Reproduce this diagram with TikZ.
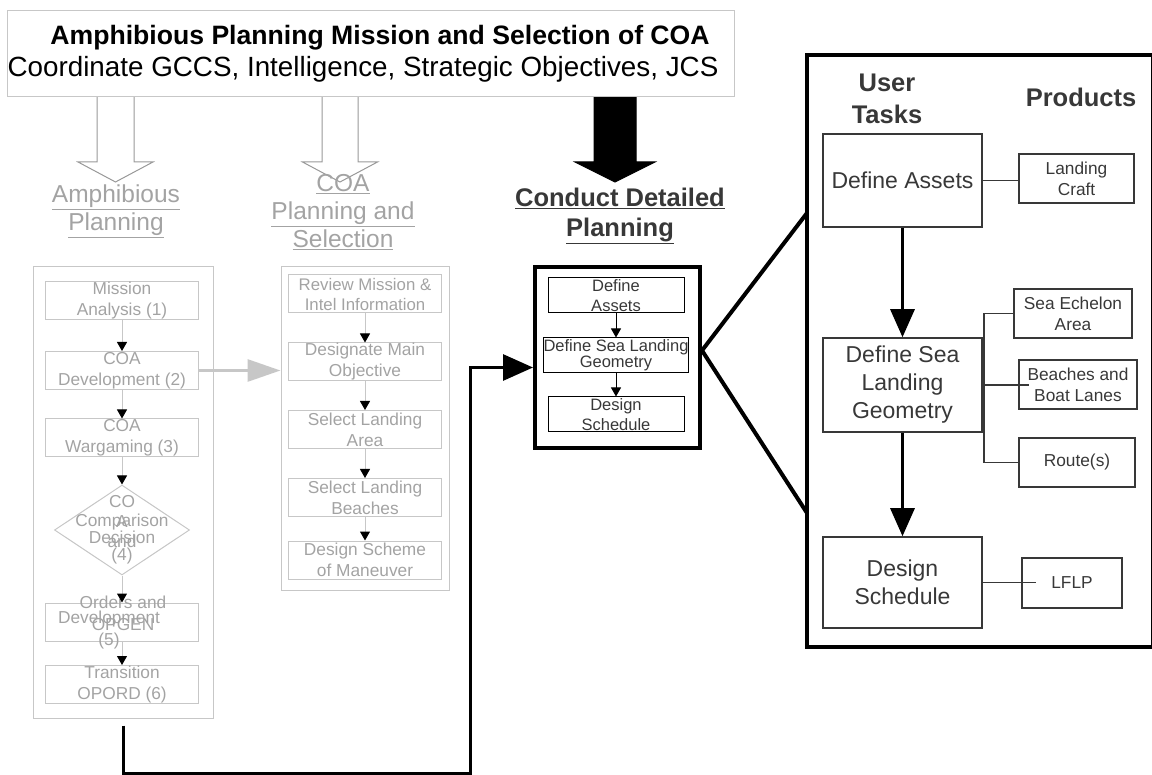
\documentclass[tikz,border=0pt]{standalone}
\usepackage{fontspec}
\setmainfont{Liberation Sans}
\usetikzlibrary{positioning, shapes.geometric, arrows.meta, calc}
\definecolor{boxgray}{gray}{0.78}
\definecolor{txtgray}{gray}{0.64}
\definecolor{arrowgray}{gray}{0.60}
\definecolor{darkline}{gray}{0.22}
\tikzstyle{plan box}=[draw=boxgray, line width=1pt, text=txtgray, minimum width=153pt, minimum height=38pt, inner sep=0pt, align=center, font=\fontsize{17.3}{21}\selectfont]
\tikzstyle{plan text}=[text=txtgray, align=center, inner sep=0pt, font=\fontsize{17.3}{21}\selectfont]
\tikzstyle{gray frame}=[draw=boxgray, line width=1pt, inner sep=0pt]
\tikzstyle{gray head}=[text=txtgray, align=center, font=\fontsize{24.5}{28}\selectfont]
\tikzstyle{bold head}=[align=center, text=darkline, font=\bfseries\fontsize{25.5}{32}\selectfont]
\tikzstyle{detail box}=[draw, line width=1pt, minimum width=136pt, minimum height=35pt, inner sep=0pt, align=center, text=darkline, font=\fontsize{16.5}{20}\selectfont]
\tikzstyle{task box}=[draw=darkline, line width=1.5pt, minimum width=159pt, inner sep=0pt, align=center, text=darkline, font=\fontsize{23}{28}\selectfont]
\tikzstyle{product box}=[draw=darkline, line width=1.5pt, minimum height=49pt, inner sep=0pt, align=center, text=darkline, font=\fontsize{17.3}{21}\selectfont]
\tikzstyle{gray flow}=[draw=boxgray, line width=1pt, -{Triangle[length=9pt, width=10pt, color=black]}]
\tikzstyle{black flow}=[line width=1pt, -{Triangle[length=9pt, width=10pt]}]
\tikzstyle{task flow}=[line width=3pt, -{Triangle[length=28pt, width=24pt]}]
\tikzstyle{link}=[darkline, line width=1.5pt]
\tikzstyle{zoom line}=[line width=4pt]
\newcommand{\blockarrow}[4]{\draw[#1] (#2-#3,96) -- (#2-#3,162) -- (#2-#4,162) -- (#2,182) -- (#2+#4,162) -- (#2+#3,162) -- (#2+#3,96);}

\begin{document}
\begin{tikzpicture}[x=1pt, y=-1pt]
\useasboundingbox (0,0) rectangle (1152,775);

% Mission box and the three block arrows
\blockarrow{draw=arrowgray, line width=1pt, fill=white}{115.5}{18.5}{37.5}
\blockarrow{draw=arrowgray, line width=1pt, fill=white}{340}{18}{37.5}
\blockarrow{draw=black, fill=black, line width=1pt}{615}{21}{40}
\node[draw=boxgray, line width=1pt, fill=white, minimum width=727pt, minimum height=86pt, inner sep=0pt, align=center, font=\fontsize{26.6}{32}\selectfont] (mission) at (370.5,54) {\hspace*{19pt}\textbf{Amphibious Planning Mission and Selection of COA}\\\fontsize{27.8}{32}\selectfont\hspace*{-15pt}Coordinate GCCS, Intelligence, Strategic Objectives, JCS};

% Headings
\node[gray head] (amph) at (116,211) {\underline{Amphibious}\\\underline{Planning}};
\node[gray head] (coasel) at (343,212) {\underline{COA}\\\underline{Planning and}\\\underline{Selection}};
\node[bold head, font=\bfseries\fontsize{25.5}{30}\selectfont] (conduct) at (620,216) {\underline{Conduct Detailed}\\\underline{Planning}};

% Amphibious planning steps
\node[gray frame, minimum width=180pt, minimum height=451pt] (lcont) at (123,492.5) {};
\node[plan box] (ma) at (122,301) {Mission\\Analysis (1)};
\node[plan box] (dev) at (122,370.5) {COA\\Development (2)};
\node[plan box] (war) at (122,438) {COA\\Wargaming (3)};
\node[draw=boxgray, line width=1pt, diamond, minimum width=135pt, minimum height=90pt, inner sep=0pt] (cmp) at (122,530) {};
\node[plan text, font=\fontsize{17.3}{20}\selectfont] (cmp-a) at (122,522) {CO\\A\\and};
\node[plan text, font=\fontsize{17.3}{17}\selectfont] (cmp-b) at (122,539) {Comparison\\Decision\\(4)};
\node[plan box] (ord) at (122,622) {};
\node[plan text, font=\fontsize{17.3}{22}\selectfont] (ord-a) at (123,613) {Orders and\\OPGEN};
\node[plan text, font=\fontsize{17.3}{22}\selectfont] (ord-b) at (109,630) {Development\\(5)};
\node[plan box] (trans) at (122,684.5) {Transition\\OPORD (6)};
\foreach \a/\b in {ma/dev, dev/war, war/cmp, cmp/ord, ord/trans}
\draw[gray flow] (\a) -- (\b);

% COA planning steps
\node[gray frame, minimum width=168pt, minimum height=323pt] (mcont) at (365,428.5) {};
\node[plan box, font=\fontsize{16.8}{20}\selectfont] (rev) at (365,294) {Review Mission \&\\Intel Information};
\node[plan box] (obj) at (365,362) {Designate Main\\Objective};
\node[plan box] (area) at (365,429.5) {Select Landing\\Area};
\node[plan box] (bch) at (365,497.5) {Select Landing\\Beaches};
\node[plan box] (scheme) at (365,560) {Design Scheme\\of Maneuver};
\foreach \a/\b in {rev/obj, obj/area, area/bch, bch/scheme}
\draw[gray flow] (\a) -- (\b);
\draw[draw=boxgray, line width=3pt, -{Triangle[length=33pt, width=22pt]}] (dev.east) -- (dev.east -| mcont.west);

% Detailed planning
\node[draw, line width=4pt, minimum width=165pt, minimum height=181pt, inner sep=0pt] (dcont) at (617.5,357.5) {};
\node[detail box] (da) at (616,295.5) {Define\\Assets};
\node[detail box, font=\fontsize{16.5}{16}\selectfont] (dg) at (616,355.5) {Define Sea Landing\\Geometry};
\node[detail box] (ds) at (616,414.5) {Design\\Schedule};
\draw[black flow] (da) -- (dg);
\draw[black flow] (dg) -- (ds);

\coordinate (bend) at (470,773);
\draw[line width=3pt, -{Triangle[length=30pt, width=26pt]}] ([yshift=-7pt]lcont.south) |- (bend) |- ([yshift=-10pt]dcont.west);

% Zoomed panel
\node[draw, line width=4pt, minimum width=346pt, minimum height=592pt, inner sep=0pt] (rcont) at (980,351) {};
\coordinate (ztop) at (807,213);
\coordinate (zbot) at (807,513);
\draw[zoom line] ([yshift=7pt]dcont.east) -- (ztop);
\draw[zoom line] ([yshift=7pt]dcont.east) -- (zbot);

\node[bold head] (user) at (887,99) {User\\Tasks};
\node[bold head] (prod) at (1081,97) {Products};

\node[task box, minimum height=93pt] (asset) at (902.5,180.5) {Define Assets};
\node[task box, minimum height=94pt] (geom) at (902.5,385) {Define Sea\\Landing\\Geometry};
\node[task box, minimum height=91pt] (sched) at (902.5,582.5) {Design\\Schedule};
\draw[task flow] (asset) -- (geom);
\draw[task flow] (geom) -- (sched);

\node[product box, minimum width=115pt] (craft) at (1076.5,178.5) {Landing\\Craft};
\node[product box, minimum width=118pt] (echelon) at (1073,313.5) {Sea Echelon\\Area};
\node[product box, minimum width=118pt] (beach) at (1078,384.5) {Beaches and\\Boat Lanes};
\node[product box, minimum width=116pt] (routes) at (1077,462.5) {Route(s)};
\node[product box, minimum width=100pt, minimum height=50pt] (lflp) at (1072,583) {LFLP};

\draw[link] (asset.east) -- (asset.east -| craft.west);
\draw[link] (echelon.west) -| ([xshift=1pt]geom.east) |- (routes.west);
\draw[link] (geom.east) -- ([xshift=11pt]beach.west |- geom.east);
\draw[link] (sched.east) -- ([xshift=15pt]lflp.west |- sched.east);
\end{tikzpicture}
\end{document}
